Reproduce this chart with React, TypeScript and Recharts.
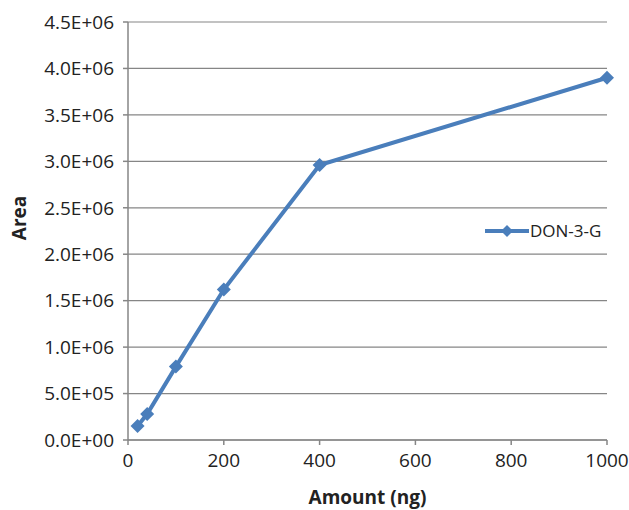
import { CartesianGrid, Line, LineChart, XAxis, YAxis, Label } from "recharts";

const amounts = [20, 40, 100, 200, 400, 1000];
const areas = [150000, 280000, 790000, 1620000, 2960000, 3900000];
const xTicks = [0, 200, 400, 600, 800, 1000];
const yTicks = [0, 500000, 1000000, 1500000, 2000000, 2500000, 3000000, 3500000, 4000000, 4500000];
const seriesName = "DON-3-G";

const data = amounts.map((a, i) => ({ amount: a, area: areas[i] }));

const BLUE = "#4a7ebb";
const GRID = "#868686";
const FONT = "'Open Sans', sans-serif";

// 4.5E+06 style, like Excel
function sci(v: number) {
  const [m, e] = v.toExponential(1).split("e");
  return `${m}E${e[0]}${e.slice(1).padStart(2, "0")}`;
}

function Diamond(props: any) {
  const { cx, cy } = props;
  if (cx == null || cy == null) return null;
  const r = 7;
  return <path d={`M${cx},${cy - r}L${cx + r},${cy}L${cx},${cy + r}L${cx - r},${cy}Z`} fill={BLUE} />;
}

function AreaTitle(props: any) {
  const vb = props.viewBox || { x: 0, y: 22, height: 418 };
  const x = 19;
  const y = vb.y + vb.height / 2 - 13;
  return (
    <text
      x={x}
      y={y}
      transform={`rotate(-90, ${x}, ${y})`}
      textAnchor="middle"
      dominantBaseline="central"
      fill="#222"
      fontSize={19}
      fontWeight="bold"
      fontFamily={FONT}
    >
      Area
    </text>
  );
}

function LegendBox() {
  return (
    <svg width={130} height={24} style={{ overflow: "visible", display: "block" }}>
      <line x1={1} y1={12} x2={45} y2={12} stroke={BLUE} strokeWidth={4} />
      <path d="M23,6L29,12L23,18L17,12Z" fill={BLUE} />
      <text x={46} y={18} fontSize={17} fontFamily={FONT} fill="#222">{seriesName}</text>
    </svg>
  );
}

export default function App() {
  return (
    <div style={{ position: "absolute", left: 0, top: 0, width: 629, height: 510, background: "#fff" }}>
      <LineChart width={629} height={510} data={data} margin={{ top: 22, right: 22, left: 0, bottom: 0 }}>
        <CartesianGrid vertical={false} stroke={GRID} strokeWidth={1.2} />
        <XAxis
          dataKey="amount"
          type="number"
          domain={[0, 1000]}
          ticks={xTicks}
          height={70}
          stroke={GRID}
          strokeWidth={1.5}
          tickSize={5}
          tickMargin={9}
          tick={{ fill: "#222", fontSize: 19, fontFamily: FONT }}
        >
          <Label value="Amount (ng)" position="insideBottom" offset={6} fill="#222" fontSize={19} fontWeight="bold" fontFamily={FONT} />
        </XAxis>
        <YAxis
          type="number"
          domain={[0, 4500000]}
          ticks={yTicks}
          width={128}
          stroke={GRID}
          strokeWidth={1.5}
          tickSize={5}
          tickMargin={9}
          tickFormatter={sci}
          tick={{ fill: "#222", fontSize: 19, fontFamily: FONT }}
        >
          <Label content={<AreaTitle />} />
        </YAxis>
        <Line
          dataKey="area"
          name={seriesName}
          stroke={BLUE}
          strokeWidth={4}
          dot={<Diamond />}
          activeDot={false}
          isAnimationActive={false}
        />
      </LineChart>
      <div style={{ position: "absolute", left: 484, top: 219 }}>
        <LegendBox />
      </div>
    </div>
  );
}
